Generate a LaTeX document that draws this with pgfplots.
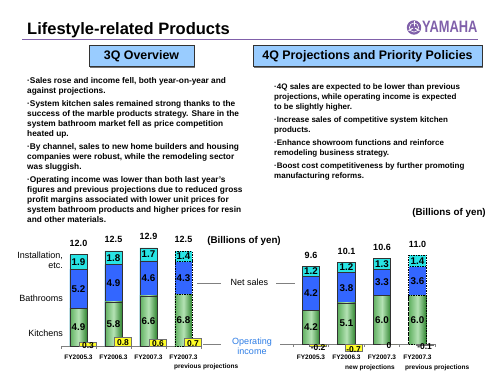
\documentclass[border=0pt]{standalone}
\usepackage{pgfplots}
\pgfplotsset{compat=1.18}
\usepackage{pgfplotstable}
\usepackage{fontspec}
\setmainfont{Liberation Sans}
\definecolor{purp}{RGB}{128,96,170}
\definecolor{boxblue}{RGB}{153,204,255}
\definecolor{cyanbar}{RGB}{40,228,228}
\definecolor{bluebar}{RGB}{51,102,255}
\definecolor{g1}{RGB}{96,176,96}
\definecolor{g2}{RGB}{180,226,180}
\definecolor{g3}{RGB}{48,134,48}
\definecolor{opy}{RGB}{255,255,40}
\definecolor{edge}{RGB}{50,50,50}
\definecolor{opblue}{RGB}{45,125,230}

\pgfplotstableread{
x k b i tot op
0 4.9 5.2 1.9 12.0 0.3
1 5.8 4.9 1.8 12.5 0.8
2 6.6 4.6 1.7 12.9 0.6
3 6.8 4.3 1.4 12.5 0.7
}\leftdata
\pgfplotstableread{
x k b i tot op
0 4.2 4.2 1.2 9.6 -0.2
1 5.1 3.8 1.2 10.1 -0.7
2 6.0 3.3 1.3 10.6 0
3 6.0 3.6 1.4 11.0 -0.1
}\rightdata

\pgfplotsset{
  barbase/.style={ybar, bar width=#1, bar shift=0pt, draw=edge, line width=0.6pt},
  barbase/.default=17pt,
  cyanbars/.style={barbase=#1, fill=cyanbar},
  cyanbars/.default=17pt,
  bluebars/.style={barbase=#1, fill=bluebar},
  bluebars/.default=17pt,
  greenbars/.style={barbase=#1, left color=g1, right color=g3, middle color=g2},
  greenbars/.default=17pt,
  main/.style={restrict x to domain=-1:2.5},
  only0/.style={restrict x to domain=-0.2:0.2},
  only1/.style={restrict x to domain=0.8:1.2},
  only2/.style={restrict x to domain=1.8:2.2},
  proj/.style={restrict x to domain=2.5:4, draw=black, dash pattern=on 1.5pt off 1pt},
  seglab/.style={draw=none, nodes near coords, point meta=explicit symbolic,
    nodes near coords align={center},
    every node near coord/.append style={font=\fontsize{9.8}{10}\selectfont\bfseries, text=black, inner sep=0pt}},
  oplab/.style={draw=none, nodes near coords, point meta=explicit symbolic,
    nodes near coords align={center},
    every node near coord/.append style={font=\fontsize{8.5}{9}\selectfont\bfseries, text=black, inner sep=0pt, yshift=-1pt}},
  totlab/.style={nodes near coords, point meta=explicit symbolic,
    every node near coord/.append style={font=\fontsize{9}{9}\selectfont\bfseries, text=black, inner sep=0pt, anchor=south, yshift=8pt}},
  salesaxis/.style={scale only axis,
    xmin=-0.5, xmax=3.5, ymin=0, ymax=13.5,
    clip=false, axis y line=none, axis x line*=bottom,
    x axis line style={draw=gray, line width=0.8pt, -},
    xtick={0,1,2,3}, xticklabels={FY2005.3,FY2006.3,FY2007.3,FY2007.3},
    major tick length=0pt, minor xtick={-0.5,0.5,1.5,2.5,3.5}, minor tick length=3pt,
    tick align=outside, minor tick style={gray, line width=0.6pt},
    ytick=\empty},
  opaxis/.style={scale only axis, xmin=-0.5, xmax=3.5, hide axis, clip=false},
}

\begin{document}
\begin{tikzpicture}
\fill[white] (0pt,0pt) rectangle (500pt,375pt);
\path[use as bounding box] (0pt,0pt) rectangle (500pt,375pt);

% title and logo
\node[anchor=base west, inner sep=0pt, font=\fontsize{16.5}{18}\selectfont\bfseries] at (27pt,340.5pt) {Lifestyle-related Products};
\draw[purp, line width=1.8pt] (22pt,335.5pt) -- (478pt,335.5pt);
\fill[purp] (414pt,347.5pt) circle (7.2pt);
\draw[white, line width=0.6pt] (414pt,347.5pt) circle (4.6pt);
\foreach \a in {90,210,330} \draw[white, line width=1pt] (414pt,347.5pt) -- ++(\a:6.3pt);
\fill[purp] (414pt,347.5pt) circle (1.6pt);
\node[anchor=base west, inner sep=0pt, text=purp, font=\fontsize{16.5}{18}\selectfont\bfseries] at (422pt,342pt) {\scalebox{0.78}[1]{YAMAHA}};

% section boxes
\fill[black!55] (90.2pt,307.1pt) rectangle (195.2pt,328.1pt);
\draw[fill=boxblue, draw=black!80, line width=0.7pt] (89pt,308.3pt) rectangle (194pt,329.3pt);
\node[font=\fontsize{12.4}{13}\selectfont\bfseries] at (141.5pt,318.8pt) {3Q Overview};
\fill[black!55] (254.2pt,307.1pt) rectangle (483.2pt,328.1pt);
\draw[fill=boxblue, draw=black!80, line width=0.7pt] (253pt,308.3pt) rectangle (482pt,329.3pt);
\node[font=\fontsize{12.4}{13}\selectfont\bfseries] at (367.5pt,318.8pt) {4Q Projections and Priority Policies};

% body text
\node[anchor=north west, inner sep=0pt, align=left, font=\fontsize{8.3}{10}\selectfont\bfseries] at (27pt,297.4pt) {%
·Sales rose and income fell, both year-on-year and\\
against projections.\\[2.8pt]
·System kitchen sales remained strong thanks to the\\
success of the marble products strategy. Share in the\\
system bathroom market fell as price competition\\
heated up.\\[2.8pt]
·By channel, sales to new home builders and housing\\
companies were robust, while the remodeling sector\\
was sluggish.\\[2.8pt]
·Operating income was lower than both last year’s\\
figures and previous projections due to reduced gross\\
profit margins associated with lower unit prices for\\
system bathroom products and higher prices for resin\\
and other materials.};
\node[anchor=north west, inner sep=0pt, align=left, font=\fontsize{8}{10}\selectfont\bfseries] at (274pt,291.9pt) {%
·4Q sales are expected to be lower than previous\\
projections, while operating income is expected\\
to be slightly higher.\\[3pt]
·Increase sales of competitive system kitchen\\
products.\\[3pt]
·Enhance showroom functions and reinforce\\
remodeling business strategy.\\[3pt]
·Boost cost competitiveness by further promoting\\
manufacturing reforms.};

% chart annotations
\node[anchor=base, inner sep=0pt, font=\fontsize{9.8}{10}\selectfont\bfseries] at (244pt,131.5pt) {(Billions of yen)};
\node[anchor=base, inner sep=0pt, font=\fontsize{9.8}{10}\selectfont\bfseries] at (449pt,159.5pt) {(Billions of yen)};
\node[anchor=base east, inner sep=0pt, font=\fontsize{9}{10}\selectfont] at (63pt,116.8pt) {Installation,};
\node[anchor=base east, inner sep=0pt, font=\fontsize{9}{10}\selectfont] at (63pt,106.8pt) {etc.};
\node[anchor=base east, inner sep=0pt, font=\fontsize{9}{10}\selectfont] at (63pt,73.8pt) {Bathrooms};
\node[anchor=base east, inner sep=0pt, font=\fontsize{9}{10}\selectfont] at (63pt,38.8pt) {Kitchens};
\node[anchor=base, inner sep=0pt, font=\fontsize{9}{10}\selectfont] at (249.5pt,89.8pt) {Net sales};
\draw[gray, line width=0.6pt] (197pt,92pt) -- (221pt,92pt);
\draw[gray, line width=0.6pt] (276pt,92pt) -- (295pt,92pt);
\node[anchor=base, inner sep=0pt, text=opblue, font=\fontsize{9}{10}\selectfont] at (252pt,30.3pt) {Operating};
\node[anchor=base, inner sep=0pt, text=opblue, font=\fontsize{9}{10}\selectfont] at (252pt,20.8pt) {income};
\draw[gray, line width=0.6pt] (203pt,30.5pt) -- (221pt,30.5pt);
\draw[gray, line width=0.6pt] (280pt,30.8pt) -- (293pt,30.8pt);
\node[anchor=base west, inner sep=0pt, font=\fontsize{6.5}{7}\selectfont\bfseries] at (174pt,6.2pt) {previous projections};
\node[anchor=base west, inner sep=0pt, font=\fontsize{6.5}{7}\selectfont\bfseries] at (345pt,5.7pt) {new projections};
\node[anchor=base west, inner sep=0pt, font=\fontsize{6.5}{7}\selectfont\bfseries] at (405pt,5.7pt) {previous projections};

% ---------- left chart: net sales
\begin{axis}[salesaxis, at={(61pt,29pt)}, anchor=south west, width=140pt, height=102.6pt,
  xticklabel style={font=\fontsize{6.5}{7}\selectfont\bfseries, anchor=center, yshift=-11pt, inner sep=0pt}]
\addplot[cyanbars, main, totlab] table[x=x, y=tot, meta=tot] {\leftdata};
\addplot[bluebars, main] table[x=x, y expr=\thisrow{k}+\thisrow{b}] {\leftdata};
\addplot[greenbars, only0] table[x=x, y=k] {\leftdata};
\addplot[greenbars, only1] table[x=x, y=k] {\leftdata};
\addplot[greenbars, only2] table[x=x, y=k] {\leftdata};
\addplot[cyanbars, proj, totlab] table[x=x, y=tot, meta=tot] {\leftdata};
\addplot[bluebars, proj] table[x=x, y expr=\thisrow{k}+\thisrow{b}] {\leftdata};
\addplot[greenbars, proj] table[x=x, y=k] {\leftdata};
\addplot[seglab] table[x=x, y expr=\thisrow{k}/2, meta=k] {\leftdata};
\addplot[seglab] table[x=x, y expr=\thisrow{k}+\thisrow{b}/2, meta=b] {\leftdata};
\addplot[seglab] table[x=x, y expr=\thisrow{k}+\thisrow{b}+\thisrow{i}/2, meta=i] {\leftdata};
\end{axis}
% left chart: operating income
\begin{axis}[opaxis, at={(61pt,29pt)}, anchor=south west, width=140pt, height=11pt, ymin=0, ymax=1]
\addplot[ybar, bar width=17pt, bar shift=0pt, fill=opy, draw=edge!70, line width=0.5pt] table[x expr=\thisrow{x}+0.27, y=op] {\leftdata};
\addplot[oplab] table[x expr=\thisrow{x}+0.27, y expr=\thisrow{op}/2, meta=op] {\leftdata};
\end{axis}

% ---------- right chart: net sales
\begin{axis}[salesaxis, at={(293.25pt,31pt)}, anchor=south west, width=142pt, height=108.7pt,
  xticklabel style={font=\fontsize{6.5}{7}\selectfont\bfseries, anchor=center, yshift=-13pt, inner sep=0pt}]
\addplot[cyanbars=17.5pt, main, totlab] table[x=x, y=tot, meta=tot] {\rightdata};
\addplot[bluebars=17.5pt, main] table[x=x, y expr=\thisrow{k}+\thisrow{b}] {\rightdata};
\addplot[greenbars=17.5pt, only0] table[x=x, y=k] {\rightdata};
\addplot[greenbars=17.5pt, only1] table[x=x, y=k] {\rightdata};
\addplot[greenbars=17.5pt, only2] table[x=x, y=k] {\rightdata};
\addplot[cyanbars=17.5pt, proj, totlab] table[x=x, y=tot, meta=tot] {\rightdata};
\addplot[bluebars=17.5pt, proj] table[x=x, y expr=\thisrow{k}+\thisrow{b}] {\rightdata};
\addplot[greenbars=17.5pt, proj] table[x=x, y=k] {\rightdata};
\addplot[seglab] table[x=x, y expr=\thisrow{k}/2, meta=k] {\rightdata};
\addplot[seglab] table[x=x, y expr=\thisrow{k}+\thisrow{b}/2, meta=b] {\rightdata};
\addplot[seglab] table[x=x, y expr=\thisrow{k}+\thisrow{b}+\thisrow{i}/2, meta=i] {\rightdata};
\end{axis}
% right chart: operating income
\begin{axis}[opaxis, at={(293.25pt,20pt)}, anchor=south west, width=142pt, height=22pt, ymin=-1, ymax=1]
\addplot[ybar, bar width=17pt, bar shift=0pt, fill=opy, draw=edge!70, line width=0.5pt] table[x expr=\thisrow{x}+0.2, y=op] {\rightdata};
\addplot[oplab, every node near coord/.append style={yshift=-1pt}] table[x expr=\thisrow{x}+0.2, y expr=\thisrow{op}/2, meta=op] {\rightdata};
\end{axis}
\end{tikzpicture}
\end{document}
